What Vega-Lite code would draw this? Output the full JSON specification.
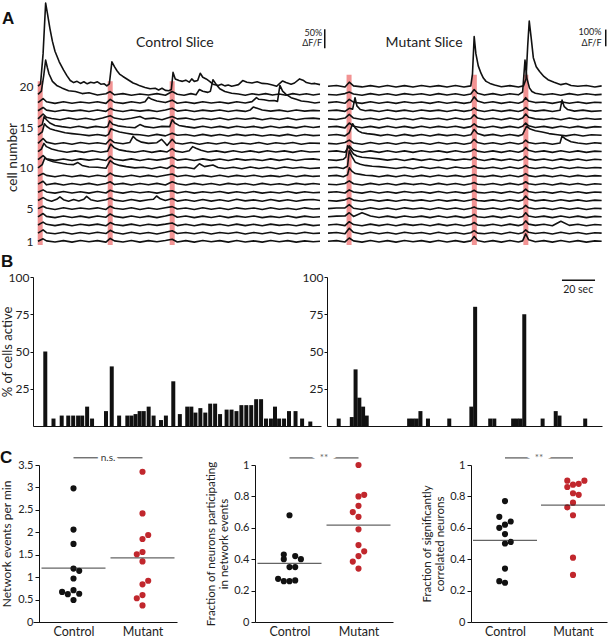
{
"$schema": "https://vega.github.io/schema/vega-lite/v6.json",
"padding": {"left": 0, "top": 1, "right": 2, "bottom": 0},
"config": {
  "font": "Lato",
  "view": {"stroke": null},
  "axis": {"labelFont": "Lato", "titleFont": "Lato", "labelColor": "#222", "titleColor": "#222", "titleFontWeight": "normal", "domainColor": "#111", "tickColor": "#111", "grid": false},
  "title": {"font": "Liberation Sans", "fontWeight": "bold", "fontSize": 17, "anchor": "start", "frame": "group", "color": "#111"},
  "text": {"color": "#222"}
},
"datasets": {
  "red": [{"s":"Control","t":1.3},{"s":"Control","t":42.5},{"s":"Control","t":79.0},{"s":"Mutant","t":12.4},{"s":"Mutant","t":86.1},{"s":"Mutant","t":116.4}],
  "traces": [
    {"s":"Control","c":20,"t":[0,1.5,3,4.5,5.5,7,8.5,10,12.5,15,17,19,21,23,25,27,29,31,33,35,37,39,40.5,42,43.5,45,46.5,48,50,53,56,58,60,63,66,69,71,73,75,77,78.5,79.5,80.8,83,85,87,89,90.5,92,94,95.5,97,99,101,103,106,108,110,112,114,116,118,120.5,123,126,129,132,135,138,140.5,142,144,146,149,151,154,156,158,161,163,166],
     "y":[20.02,20.3,24,30.2,29,27.1,25.5,24.3,23,22,21.3,20.7,20.45,20.6,20.35,20.55,20.3,20.5,20.4,20.55,20.25,20.3,20.05,20.3,23,22.4,21.9,21.5,21.2,20.8,20.4,20.25,20.05,19.85,19.7,19.75,19.55,19.75,19.5,19.45,19.6,21.7,20.9,20.7,20.6,20.75,20.5,20.9,20.6,20.7,21.6,21.1,20.9,20.6,20.25,20.1,20.25,20.05,20.15,20.0,20.1,20.2,20.7,20.5,20.4,20.55,20.35,20.3,20.15,20.0,20.3,20.65,20.45,20.25,20.4,20.9,20.75,20.45,20.3,20.35,20.2]},
    {"s":"Control","c":19,"t":[0,2,3.5,4.5,5.5,6.5,8.5,11,14,18,22,26,30,35,40,42.5,45,50,55,60,65,70,75,79,82,86,90,93,95,97,100,101.5,103,105,107,110,114,118,122,126,130,134,138,142,146,150,154,158,162,166],
     "y":[19.0,19.4,21.5,23.2,22.3,21.5,20.6,20.1,19.8,19.45,19.35,19.1,19.2,18.92,19.08,19.35,18.95,19.1,18.9,19.05,18.92,19.1,18.9,19.35,19.02,18.9,19.1,18.95,19.6,19.4,19.25,19.4,20.8,20.2,19.7,19.35,19.15,19.05,18.9,19.08,18.95,19.1,18.92,19.05,18.9,19.1,18.95,19.08,18.92,19.05]},
    {"s":"Control","c":18,"t":[0,3,5,10,15,20,25,30,35,40,42.5,45,50,55,60,63,65,67,70,75,79,82,87,92,97,102,107,112,117,122,126,128.6,130,133,136,139,141,142.4,144,146,149,152,155,159,163,166],
     "y":[18.0,18.5,18.1,17.9,18.1,17.92,18.08,17.95,18.1,17.9,18.4,18.05,17.9,18.1,17.95,18.1,18.65,18.4,18.2,18.0,18.3,17.92,18.08,17.9,18.1,17.95,18.08,17.9,18.1,17.95,18.12,18.6,18.4,18.35,18.22,18.25,18.15,20.1,19.4,19.0,18.6,18.4,18.2,18.1,17.95,18.05]},
    {"s":"Control","c":17,"t":[0,3,5,10,15,20,25,30,35,40,42.5,45,50,55,60,65,70,75,79,82,87,92,97,102,107,112,117,122,125,126.7,129,132,137,142,147,152,157,162,166],
     "y":[17.0,17.4,17.08,16.9,17.1,16.95,17.08,16.9,17.1,16.92,17.3,17.05,16.9,17.1,16.95,17.08,16.9,17.1,17.3,16.95,17.1,16.9,17.08,16.95,17.1,16.9,17.05,16.92,17.1,17.45,17.3,17.1,16.95,17.08,16.9,17.1,16.95,17.05,17.0]},
    {"s":"Control","c":16,"t":[0,3,5,8,13,18,23,28,33,38,42.5,45,50,55,60,63,68,73,79,82,87,92,97,102,107,112,117,122,127,132,137,142,147,152,157,162,166],
     "y":[16.0,16.6,16.2,16.05,15.9,16.1,15.92,16.08,15.9,16.1,16.4,16.1,15.92,16.08,16.3,16.0,16.1,15.9,16.3,16.0,16.1,15.9,16.08,15.92,16.1,15.9,16.08,15.95,16.1,15.9,16.08,15.92,16.1,15.9,16.05,16.1,16.0]},
    {"s":"Control","c":15,"t":[0,2.5,3.6,5,7,10,14,19,24,29,34,39,41,42.2,44,47,52,57,60,63,68,73,77.5,79,80.5,83,87,92,97,102,107,112,117,122,127,132,137,142,147,152,157,162,166],
     "y":[15.0,15.3,16.3,15.9,15.5,15.2,15.05,14.92,15.1,14.9,15.08,14.95,15.05,15.75,15.35,15.15,15.0,14.92,15.3,15.05,14.92,15.08,15.05,15.9,15.5,15.2,15.05,14.9,15.1,14.92,15.08,14.9,15.1,14.95,15.08,14.9,15.1,14.92,15.05,14.9,15.1,14.95,15.05]},
    {"s":"Control","c":14,"t":[0,2.5,3.8,5,7,10,13,16,20,25,30,35,40,41.5,43,45,48,52,56,60,65,70,75,79,82,87,92,97,102,107,112,117,122,127,132,137,142,147,152,157,162,166],
     "y":[14.0,14.4,15.4,15.1,14.8,14.6,14.45,14.3,14.2,14.08,13.95,14.08,13.92,14.1,14.8,14.6,14.4,14.25,14.1,14.05,13.9,14.1,13.92,14.25,14.0,14.08,13.9,14.1,13.92,14.08,13.9,14.1,13.95,14.08,13.9,14.05,13.92,14.1,13.9,14.08,13.95,14.0]},
    {"s":"Control","c":13,"t":[0,3,5,10,15,20,25,30,35,40,42.5,45,50,54,56,58,61,65,70,72.7,74.5,76,79,81,85,90,95,100,105,110,115,120,125,130,135,140,145,150,155,160,166],
     "y":[13.0,13.6,13.15,12.92,13.08,12.9,13.1,12.95,13.08,12.92,13.5,13.1,12.95,13.1,13.85,13.45,13.15,13.0,13.08,13.5,13.1,12.75,13.5,13.05,12.92,13.1,12.9,13.08,12.92,13.1,12.9,13.05,12.92,13.1,12.9,13.08,12.95,13.1,12.9,13.05,13.0]},
    {"s":"Control","c":12,"t":[0,2,3.5,5,8,12,17,22,27,32,37,41,42.8,45,48,52,57,62,67,72,76,79,81,85,89,91,93,96,100,105,110,115,120,125,130,135,140,145,150,155,160,166],
     "y":[12.0,12.3,13.0,12.6,12.3,12.1,11.92,12.08,11.9,12.1,11.92,12.05,12.9,12.45,12.2,12.05,11.92,12.1,11.9,12.08,11.95,12.35,12.05,11.92,12.1,12.6,12.4,12.15,11.95,12.08,11.9,12.1,11.92,12.08,11.9,12.1,11.95,12.08,11.9,12.1,11.95,12.0]},
    {"s":"Control","c":11,"t":[0,3,5,10,15,20,25,30,35,40,42.5,45,50,55,60,65,70,75,79,82,87,92,97,102,107,112,117,122,127,132,137,142,147,152,157,162,166],
     "y":[11.0,11.5,11.1,10.92,11.08,10.9,11.1,10.95,11.08,10.9,11.4,11.05,10.92,11.1,10.9,11.08,10.95,11.1,11.3,10.95,11.08,10.9,11.1,10.92,11.08,10.9,11.1,10.95,11.05,10.9,11.1,10.92,11.08,10.9,11.05,11.1,11.0]},
    {"s":"Control","c":10,"t":[0,2.5,4,6,9,13,17,21,23.5,26,30,35,40,42.5,45,48,52,57,62,67,72,76,79,82,87,92,95,98,103,106,110,115,120,125,130,135,140,145,150,155,160,166],
     "y":[10.0,10.4,11.2,10.95,10.75,10.6,10.45,10.4,10.65,10.3,10.1,10.08,9.95,10.9,10.5,10.3,10.15,10.0,10.08,9.9,10.1,9.92,10.3,10.0,10.08,9.9,10.5,10.15,10.35,10.05,9.92,10.08,9.9,10.1,9.92,10.08,9.9,10.1,9.95,10.08,9.92,10.0]},
    {"s":"Control","c":9,"t":[0,3,5,10,15,20,25,30,35,40,42.5,45,50,55,60,65,70,75,79,82,87,92,97,102,107,112,117,122,127,132,137,142,147,152,157,162,166],
     "y":[9.0,9.3,9.08,8.9,9.1,8.92,9.08,8.9,9.1,8.95,9.35,9.05,8.9,9.1,8.92,9.08,8.9,9.1,9.25,8.95,9.1,8.9,9.08,8.92,9.1,8.9,9.08,8.95,9.1,8.9,9.05,8.92,9.1,8.9,9.08,8.95,9.0]},
    {"s":"Control","c":8,"t":[0,3,5,10,15,20,25,30,35,40,42.5,45,50,55,60,65,70,75,79,82,87,92,97,102,107,112,117,122,127,132,137,142,147,152,157,162,166],
     "y":[8.0,8.35,7.92,8.1,7.9,8.08,7.92,8.1,7.9,8.08,8.3,7.95,8.1,7.9,8.08,7.92,8.1,7.9,8.3,8.05,7.9,8.1,7.92,8.08,7.9,8.1,7.95,8.08,7.9,8.1,7.92,8.05,7.9,8.1,7.95,8.08,8.0]},
    {"s":"Control","c":7,"t":[0,3,5,10,15,20,25,30,35,40,42.5,45,50,55,60,65,70,75,79,82,87,92,97,102,107,112,117,122,127,132,137,142,147,152,157,162,166],
     "y":[7.0,7.3,7.05,6.9,7.1,6.92,7.08,6.9,7.1,6.92,7.25,7.08,6.9,7.1,6.95,7.08,6.9,7.1,7.2,6.92,7.1,6.9,7.08,6.95,7.1,6.9,7.08,6.92,7.1,6.9,7.05,6.92,7.1,6.9,7.08,6.95,7.0]},
    {"s":"Control","c":6,"t":[0,3,5,8,11,12.9,15,18,21,24,27,28.6,31,35,40,42.5,45,50,55,60,65,68,69.8,72,75,79,82,87,92,97,102,107,112,117,122,127,132,137,142,147,152,157,162,166],
     "y":[6.0,6.35,6.1,5.9,6.15,6.45,6.1,5.92,6.12,5.95,6.15,6.5,6.1,5.9,6.1,6.3,6.05,5.9,6.12,5.92,6.1,6.15,6.55,6.2,6.0,6.25,5.92,6.1,5.9,6.12,5.92,6.1,5.9,6.15,5.95,6.08,5.9,6.12,5.92,6.1,5.9,6.08,6.12,6.0]},
    {"s":"Control","c":5,"t":[0,3,5,10,15,20,25,30,35,40,42.5,45,50,55,60,65,70,75,79,82,87,92,97,102,107,112,117,122,127,132,137,142,147,152,157,162,166],
     "y":[5.0,5.3,5.08,4.9,5.1,4.92,5.08,4.95,5.1,4.9,5.3,5.05,4.92,5.1,4.9,5.08,4.92,5.1,5.25,4.95,5.08,4.9,5.1,4.92,5.08,4.9,5.1,4.95,5.08,4.9,5.1,4.92,5.05,4.9,5.1,4.95,5.0]},
    {"s":"Control","c":4,"t":[0,3,5,10,15,20,25,30,35,40,42.5,45,50,55,60,65,70,75,79,82,87,92,97,102,107,112,117,122,127,132,137,142,147,152,157,162,166],
     "y":[4.0,4.4,4.05,3.9,4.1,3.92,4.08,3.9,4.1,3.95,4.35,4.05,3.9,4.1,3.92,4.08,3.9,4.1,4.3,3.95,4.1,3.9,4.08,3.92,4.1,3.9,4.08,3.95,4.1,3.9,4.05,3.92,4.1,3.9,4.08,3.95,4.0]},
    {"s":"Control","c":3,"t":[0,3,5,10,15,20,25,30,35,40,42.5,45,50,55,60,65,70,75,79,82,87,92,97,102,107,112,117,122,127,132,137,142,147,152,157,162,166],
     "y":[3.0,3.35,3.08,2.92,3.1,2.9,3.08,2.95,3.1,2.9,3.3,3.05,2.92,3.1,2.9,3.08,2.95,3.1,3.25,2.92,3.08,2.9,3.1,2.95,3.08,2.9,3.1,2.92,3.08,2.9,3.1,2.95,3.05,2.9,3.1,2.92,3.0]},
    {"s":"Control","c":2,"t":[0,3,5,10,15,20,25,30,35,40,42.5,45,50,55,60,65,70,75,79,82,87,92,97,102,107,112,117,122,127,132,137,142,147,152,157,162,166],
     "y":[2.0,2.4,2.05,1.92,2.1,1.9,2.08,1.92,2.1,1.95,2.35,2.08,1.9,2.1,1.92,2.08,1.9,2.1,2.3,1.95,2.08,1.92,2.1,1.9,2.08,1.95,2.1,1.9,2.08,1.92,2.1,1.9,2.05,1.92,2.1,1.95,2.0]},
    {"s":"Control","c":1,"t":[0,3,5,10,15,20,25,30,35,40,42.5,45,50,55,60,65,70,75,79,82,87,92,97,102,107,112,117,122,127,132,137,142,147,152,157,162,166],
     "y":[1.0,1.3,1.05,0.92,1.08,0.9,1.1,0.95,1.08,0.9,1.35,1.05,0.92,1.1,0.9,1.08,0.95,1.1,1.25,0.92,1.08,0.9,1.1,0.95,1.08,0.9,1.1,0.92,1.05,0.9,1.1,0.95,1.08,0.9,1.05,0.95,1.0]},
    {"s":"Mutant","c":20,"t":[0,5,10,12.5,15,20,25,30,35,40,45,50,55,60,65,70,75,80,84,85,86,87,88.4,90,91.4,93,95.3,98,102,107,112,115,116.5,117.5,118.4,119.5,120.8,122.5,124.5,127,129.4,133,137,140,143,147,152,157,161],
     "y":[20.0,20.1,19.92,20.5,20.05,19.92,20.08,19.9,20.1,19.92,20.08,19.9,20.1,19.95,20.08,19.9,20.1,19.92,20.05,21.5,26.1,24.0,22.5,21.6,21.0,20.6,20.35,20.15,19.95,20.08,19.9,20.05,20.9,25.0,28.0,26.0,23.5,22.4,21.8,21.2,20.8,20.5,20.2,20.35,20.1,20.0,20.1,19.92,20.05]},
    {"s":"Mutant","c":19,"t":[0,5,10,12.5,15,20,25,30,35,40,45,50,55,60,65,70,75,80,84,86,88,92,97,102,107,112,114.5,115.9,117,118.5,120,122,127,132,137,142,147,152,157,161],
     "y":[19.0,18.92,19.1,19.3,19.05,18.9,19.1,18.92,19.08,18.9,19.1,18.95,19.08,18.9,19.1,18.92,19.08,18.9,19.05,19.6,19.15,18.92,19.1,18.9,19.08,18.95,19.3,23.2,21.0,19.8,19.35,19.15,18.95,19.08,18.9,19.1,18.92,19.08,18.95,19.0]},
    {"s":"Mutant","c":18,"t":[0,5,10,12.5,15,20,25,30,35,40,45,50,55,60,65,70,75,80,84,86,88,92,97,102,107,112,114.5,116.3,118,122,127,132,137,142,147,152,157,161],
     "y":[18.0,18.1,17.92,18.4,18.05,17.9,18.1,17.92,18.08,17.9,18.1,17.95,18.08,17.9,18.1,17.92,18.08,17.9,18.05,18.7,18.2,17.95,18.1,17.9,18.08,17.92,18.1,18.6,18.2,18.0,18.08,17.9,18.1,17.92,18.08,17.9,18.05,18.0]},
    {"s":"Mutant","c":17,"t":[0,5,10,12.5,14.5,15.9,17,19,22,25,30,35,40,45,50,55,60,65,70,75,80,84,86,88,92,97,102,107,112,114.5,116.3,118,122,127,132,136.5,137.7,139,141,145,150,155,161],
     "y":[17.0,17.08,16.92,17.3,17.2,18.6,17.6,17.15,17.0,17.08,16.9,17.1,16.92,17.08,16.9,17.1,16.95,17.08,16.9,17.1,16.92,17.05,17.35,17.05,16.9,17.1,16.92,17.08,16.9,17.05,17.4,17.1,16.95,17.08,16.9,17.05,18.3,17.5,17.15,16.95,17.08,16.92,17.0]},
    {"s":"Mutant","c":16,"t":[0,5,10,12.5,15,20,25,30,35,40,45,50,55,60,65,70,75,80,84,86,88,92,97,102,107,112,114.5,116.3,118,122,127,132,137,142,147,152,157,161],
     "y":[16.0,15.92,16.1,16.55,16.1,15.92,16.08,15.9,16.1,15.92,16.08,15.9,16.1,15.95,16.08,15.9,16.1,15.92,16.05,16.5,16.1,15.92,16.08,15.9,16.1,15.92,16.1,16.6,16.2,16.0,15.92,16.08,15.9,16.1,15.92,16.08,15.95,16.0]},
    {"s":"Mutant","c":15,"t":[0,5,10,12.5,15,20,25,30,35,40,45,50,55,60,65,70,75,80,84,86,88,92,97,102,107,112,114.5,116.3,118,122,127,132,137,142,147,152,157,161],
     "y":[15.0,15.08,14.9,15.5,15.1,14.92,15.08,14.9,15.1,14.92,15.08,14.9,15.1,14.92,15.08,14.95,15.1,14.9,15.05,15.4,15.05,14.92,15.1,14.9,15.08,14.92,15.1,15.5,15.15,14.95,15.08,14.9,15.1,14.92,15.08,14.9,15.05,15.0]},
    {"s":"Mutant","c":14,"t":[0,5,10,12.5,14.5,16,18,20,23,27,31,35,40,45,50,55,60,65,70,75,80,84,86,88,92,97,102,107,112,114.5,116.8,119,122,126,130,135,140,145,150,155,161],
     "y":[14.0,14.08,13.92,14.3,15.4,14.9,14.5,14.3,14.2,14.1,13.95,14.08,13.9,14.1,13.92,14.08,13.9,14.1,13.95,14.08,13.9,14.05,14.7,14.2,13.95,14.1,13.9,14.08,13.92,14.1,15.1,14.75,14.55,14.4,14.2,14.05,13.92,14.08,13.9,14.05,14.0]},
    {"s":"Mutant","c":13,"t":[0,5,10,12.5,15,20,25,30,35,40,45,50,55,60,65,70,75,80,84,86,88,92,97,102,107,112,114.5,116.3,118,122,127,132,136.5,137.7,140,143,147,152,157,161],
     "y":[13.0,12.92,13.1,13.4,13.05,12.9,13.1,12.92,13.08,12.9,13.1,12.95,13.08,12.9,13.1,12.92,13.08,12.9,13.05,13.5,13.1,12.92,13.08,12.9,13.1,12.92,13.05,13.4,13.1,12.95,13.08,12.9,13.05,13.9,13.5,13.2,13.05,12.92,13.08,13.0]},
    {"s":"Mutant","c":12,"t":[0,5,10,12.5,15,20,25,30,35,40,45,50,55,60,65,70,75,80,84,86,88,92,97,102,107,112,114.5,116.3,118,122,127,132,137,142,147,152,157,161],
     "y":[12.0,12.08,11.92,12.7,12.15,11.92,12.08,11.9,12.1,11.92,12.08,11.9,12.1,11.95,12.08,11.9,12.1,11.92,12.05,12.3,12.05,11.92,12.08,11.9,12.1,11.92,12.08,12.5,12.15,11.95,12.08,11.9,12.1,11.92,12.08,11.9,12.05,12.0]},
    {"s":"Mutant","c":11,"t":[0,5,9,10.5,11.5,13,15,17,20,25,30,35,40,45,50,55,60,65,70,75,80,84,86,88,92,97,102,107,112,114.5,116.3,118,122,127,132,137,142,147,152,157,161],
     "y":[11.0,10.92,11.05,11.3,12.7,12.3,11.7,11.45,11.3,11.2,11.1,10.95,11.08,10.9,11.1,10.92,11.08,10.9,11.1,10.95,11.08,11.0,11.3,11.05,10.9,11.1,10.92,11.08,10.9,11.05,11.4,11.1,10.95,11.08,10.9,11.1,10.92,11.08,10.9,11.05,11.0]},
    {"s":"Mutant","c":10,"t":[0,5,9,11.5,12.5,14,16,19,22,26,30,35,40,45,50,55,60,65,70,75,80,84,86,88,92,97,102,107,112,114.5,116.3,118,122,127,132,137,142,147,152,157,161],
     "y":[10.0,10.08,9.92,10.2,12.1,11.4,10.7,10.45,10.3,10.2,10.15,10.05,9.92,10.08,9.9,10.1,9.92,10.08,9.9,10.1,9.95,10.05,10.25,10.0,9.92,10.08,9.9,10.1,9.92,10.05,10.3,10.05,9.92,10.08,9.9,10.1,9.92,10.08,9.95,10.05,10.0]},
    {"s":"Mutant","c":9,"t":[0,5,9,11.5,12.5,14,16,19,22,26,30,35,40,45,50,55,60,65,70,75,80,84,86,88,92,97,102,107,112,114.5,116.3,118,122,127,132,137,142,147,152,157,161],
     "y":[9.0,9.08,8.92,9.15,10.0,9.6,9.3,9.2,9.1,9.05,8.92,9.08,8.9,9.1,8.92,9.08,8.9,9.1,8.95,9.08,8.9,9.05,9.2,9.0,8.92,9.08,8.9,9.1,8.92,9.05,9.3,9.05,8.92,9.08,8.9,9.1,8.92,9.08,8.95,9.05,9.0]},
    {"s":"Mutant","c":8,"t":[0,5,10,12.5,15,20,25,30,35,40,45,50,55,60,65,70,75,80,84,86,88,92,97,102,107,112,114.5,116.3,118,122,127,132,137,142,147,152,157,161],
     "y":[8.0,7.92,8.08,8.4,8.05,7.9,8.1,7.92,8.08,7.9,8.1,7.95,8.08,7.9,8.1,7.92,8.08,7.9,8.05,8.2,8.0,7.92,8.08,7.9,8.1,7.92,8.05,8.3,8.05,7.92,8.08,7.9,8.1,7.92,8.08,7.9,8.05,8.0]},
    {"s":"Mutant","c":7,"t":[0,5,10,12.5,15,20,25,30,35,40,45,50,55,60,65,70,75,80,84,86,88,92,97,102,107,112,114.5,116.3,118,122,127,132,137,142,147,152,157,161],
     "y":[7.0,7.08,6.92,7.3,7.05,6.9,7.1,6.92,7.08,6.9,7.1,6.95,7.08,6.9,7.1,6.92,7.08,6.9,7.05,7.25,7.0,6.92,7.08,6.9,7.1,6.92,7.05,7.4,7.1,6.95,7.08,6.9,7.1,6.92,7.08,6.9,7.05,7.0]},
    {"s":"Mutant","c":6,"t":[0,5,10,12.5,15,20,25,30,35,40,45,50,55,60,65,70,75,80,84,86,88,92,97,102,107,112,114.5,116.3,118,122,127,132,137,142,147,152,157,161],
     "y":[6.0,5.92,6.08,6.3,6.05,5.9,6.1,5.92,6.08,5.9,6.1,5.95,6.08,5.9,6.1,5.92,6.08,5.9,6.05,6.2,6.0,5.92,6.08,5.9,6.1,5.92,6.05,6.55,6.15,5.95,6.08,5.9,6.1,5.92,6.08,5.9,6.05,6.0]},
    {"s":"Mutant","c":5,"t":[0,5,10,12.5,15,20,25,30,35,40,45,50,55,60,65,70,75,80,84,86,88,92,97,102,107,112,114.5,116.3,118,122,127,132,137,142,147,152,157,161],
     "y":[5.0,5.08,5.1,5.5,5.05,4.9,5.1,4.92,5.08,4.9,5.1,4.95,5.08,4.9,5.1,4.92,5.08,4.9,5.05,5.2,5.0,4.92,5.08,4.9,5.1,4.92,5.05,5.4,5.1,4.95,5.08,4.9,5.1,4.92,5.08,4.9,5.05,5.0]},
    {"s":"Mutant","c":4,"t":[0,5,10,12.5,15,20,25,30,35,40,45,50,55,60,65,70,75,80,84,86,88,92,97,102,107,112,114.5,116.3,118,122,127,132,137,142,147,152,157,161],
     "y":[4.0,4.08,4.1,4.5,4.05,4.5,4.1,3.92,4.08,3.9,4.1,3.95,4.08,3.9,4.1,3.92,4.08,3.9,4.05,4.3,4.0,3.92,4.08,3.9,4.1,3.92,4.05,4.5,4.1,3.95,4.08,3.9,4.1,3.92,4.08,3.9,4.05,4.0]},
    {"s":"Mutant","c":3,"t":[0,5,10,12.5,15,20,25,30,35,40,45,50,55,60,65,70,75,80,84,86,88,92,97,102,107,112,114.5,116.3,118,122,127,132,137,142,147,152,157,161],
     "y":[3.0,3.08,2.92,3.4,3.05,2.9,3.1,2.92,3.08,2.9,3.1,2.95,3.08,2.9,3.1,2.92,3.08,2.9,3.05,3.3,3.0,2.92,3.08,2.9,3.1,2.92,3.05,3.5,3.1,2.95,3.08,2.9,3.45,2.95,3.08,2.9,3.05,3.0]},
    {"s":"Mutant","c":2,"t":[0,5,10,12.5,15,20,25,30,35,40,45,50,55,60,65,70,75,80,84,86,88,92,97,102,107,112,114.5,116.3,118,122,127,132,137,142,147,152,157,161],
     "y":[2.0,2.08,1.92,2.6,2.1,1.9,2.1,1.92,2.08,1.9,2.1,1.95,2.08,1.9,2.1,1.92,2.08,1.9,2.05,2.3,2.0,1.92,2.08,1.9,2.1,1.92,2.05,2.4,2.1,1.95,2.08,1.9,2.1,1.92,2.08,1.9,2.05,2.0]},
    {"s":"Mutant","c":1,"t":[0,5,10,12.5,15,20,25,30,35,40,45,50,55,60,65,70,75,80,84,86,88,92,97,102,107,112,114.5,116.3,118,122,127,132,137,142,147,152,157,161],
     "y":[1.0,1.08,0.92,1.4,1.05,0.9,1.1,0.92,1.08,0.9,1.1,0.95,1.08,0.9,1.1,0.92,1.08,0.9,1.05,1.6,1.1,0.92,1.08,0.9,1.1,0.92,1.05,1.9,1.2,0.95,1.08,0.9,1.1,0.92,1.08,0.9,1.05,1.0]}
  ],
  "bars": [
    {"s":"Control","t":1.5,"p":50},{"s":"Control","t":6.5,"p":5},{"s":"Control","t":11.5,"p":7},{"s":"Control","t":15.5,"p":7},{"s":"Control","t":18.5,"p":7},{"s":"Control","t":21.5,"p":7},{"s":"Control","t":24,"p":7},{"s":"Control","t":27,"p":13},{"s":"Control","t":30,"p":5},{"s":"Control","t":38.5,"p":10},{"s":"Control","t":42,"p":40},{"s":"Control","t":46.5,"p":7},{"s":"Control","t":51.5,"p":7},{"s":"Control","t":54,"p":7},{"s":"Control","t":56.5,"p":8},{"s":"Control","t":59,"p":10},{"s":"Control","t":61.5,"p":10},{"s":"Control","t":64.5,"p":13},{"s":"Control","t":67.5,"p":7},{"s":"Control","t":72,"p":4},{"s":"Control","t":75,"p":7},{"s":"Control","t":79.5,"p":30},{"s":"Control","t":83.5,"p":8},{"s":"Control","t":88,"p":13},{"s":"Control","t":90.5,"p":13},{"s":"Control","t":93,"p":9},{"s":"Control","t":96,"p":12},{"s":"Control","t":99,"p":9},{"s":"Control","t":102,"p":15},{"s":"Control","t":105,"p":15},{"s":"Control","t":108,"p":8},{"s":"Control","t":112,"p":11},{"s":"Control","t":115,"p":11},{"s":"Control","t":118,"p":10},{"s":"Control","t":121,"p":14},{"s":"Control","t":124,"p":14},{"s":"Control","t":127,"p":14},{"s":"Control","t":130,"p":18},{"s":"Control","t":133,"p":18},{"s":"Control","t":136,"p":5},{"s":"Control","t":139,"p":5},{"s":"Control","t":141.5,"p":13},{"s":"Control","t":144,"p":5},{"s":"Control","t":147,"p":5},{"s":"Control","t":150,"p":10},{"s":"Control","t":154,"p":10},{"s":"Control","t":158,"p":5},{"s":"Control","t":163,"p":3},
    {"s":"Mutant","t":3.5,"p":5},{"s":"Mutant","t":11.5,"p":6},{"s":"Mutant","t":13.8,"p":38},{"s":"Mutant","t":16.1,"p":19},{"s":"Mutant","t":18.4,"p":13},{"s":"Mutant","t":20.6,"p":7},{"s":"Mutant","t":46.5,"p":5},{"s":"Mutant","t":48.8,"p":5},{"s":"Mutant","t":51.1,"p":5},{"s":"Mutant","t":53.4,"p":10},{"s":"Mutant","t":58,"p":5},{"s":"Mutant","t":71,"p":5},{"s":"Mutant","t":84.5,"p":13},{"s":"Mutant","t":86.8,"p":80},{"s":"Mutant","t":96,"p":5},{"s":"Mutant","t":98.5,"p":5},{"s":"Mutant","t":110,"p":5},{"s":"Mutant","t":112.3,"p":5},{"s":"Mutant","t":114.5,"p":5},{"s":"Mutant","t":116.8,"p":75},{"s":"Mutant","t":128,"p":5},{"s":"Mutant","t":136,"p":10},{"s":"Mutant","t":138.3,"p":7},{"s":"Mutant","t":154,"p":5}
  ]
},
"concat": [
  {"hconcat": [
    {"width": 287, "height": 246,
     "title": {"text": "A", "dx": -31, "offset": -27},
     "resolve": {"axis": {"x": "independent", "y": "independent"}},
     "layer": [
      {"data": {"name": "red"}, "transform": [{"filter": "datum.s === 'Control'"}],
       "mark": {"type": "rule", "strokeWidth": 5, "color": "#f08080", "opacity": 0.85},
       "encoding": {"x": {"field": "t", "type": "quantitative", "axis": null}, "y": {"datum": 0.55, "axis": null}, "y2": {"datum": 20.6}}},
      {"data": {"name": "traces"}, "transform": [{"filter": "datum.s === 'Control'"}, {"flatten": ["t", "y"]}],
       "mark": {"type": "line", "strokeWidth": 1.6, "color": "#111", "strokeJoin": "round"},
       "encoding": {
         "x": {"field": "t", "type": "quantitative", "scale": {"domain": [-2.94, 166], "nice": false, "zero": false}, "axis": null},
         "y": {"field": "y", "type": "quantitative", "scale": {"domain": [0.3, 30.45], "nice": false, "zero": false},
               "axis": {"orient": "left", "values": [1, 5, 10, 15, 20], "title": "cell number", "domain": false, "ticks": false, "tickSize": 0, "labelPadding": 0, "labelFontSize": 12, "titleFontSize": 13.5, "titleX": -14, "titleY": 156}},
         "detail": {"field": "c", "type": "nominal"}}},
      {"data": {"values": [{}]}, "mark": {"type": "text", "text": "Control Slice", "fontSize": 14, "baseline": "middle"},
       "encoding": {"x": {"datum": 80.6, "axis": null}, "y": {"datum": 25.27, "axis": null}}},
      {"data": {"values": [{}]}, "mark": {"type": "rule", "strokeWidth": 1.5, "color": "#111"},
       "encoding": {"x": {"datum": 168.8, "axis": null}, "y": {"datum": 24.66, "axis": null}, "y2": {"datum": 26.98}}},
      {"data": {"values": [{}]}, "mark": {"type": "text", "text": "50%", "fontSize": 9, "align": "right", "baseline": "middle"},
       "encoding": {"x": {"datum": 167.3, "axis": null}, "y": {"datum": 26.56, "axis": null}}},
      {"data": {"values": [{}]}, "mark": {"type": "text", "text": "ΔF/F", "fontSize": 9, "align": "right", "baseline": "middle"},
       "encoding": {"x": {"datum": 167.3, "axis": null}, "y": {"datum": 25.35, "axis": null}}}
     ]},
    {"width": 274, "height": 246,
     "layer": [
      {"data": {"name": "red"}, "transform": [{"filter": "datum.s === 'Mutant'"}],
       "mark": {"type": "rule", "strokeWidth": 5, "color": "#f08080", "opacity": 0.85},
       "encoding": {"x": {"field": "t", "type": "quantitative", "axis": null}, "y": {"datum": 0.55, "axis": null}, "y2": {"datum": 21.4}}},
      {"data": {"name": "traces"}, "transform": [{"filter": "datum.s === 'Mutant'"}, {"flatten": ["t", "y"]}],
       "mark": {"type": "line", "strokeWidth": 1.6, "color": "#111", "strokeJoin": "round"},
       "encoding": {
         "x": {"field": "t", "type": "quantitative", "scale": {"domain": [0, 161.2], "nice": false, "zero": false}, "axis": null},
         "y": {"field": "y", "type": "quantitative", "scale": {"domain": [0.3, 30.45], "nice": false, "zero": false}, "axis": null},
         "detail": {"field": "c", "type": "nominal"}}},
      {"data": {"values": [{}]}, "mark": {"type": "text", "text": "Mutant Slice", "fontSize": 14, "baseline": "middle"},
       "encoding": {"x": {"datum": 56.5, "axis": null}, "y": {"datum": 25.27, "axis": null}}},
      {"data": {"values": [{}]}, "mark": {"type": "rule", "strokeWidth": 1.5, "color": "#111"},
       "encoding": {"x": {"datum": 163.4, "axis": null}, "y": {"datum": 24.9, "axis": null}, "y2": {"datum": 26.95}}},
      {"data": {"values": [{}]}, "mark": {"type": "text", "text": "100%", "fontSize": 9, "align": "right", "baseline": "middle"},
       "encoding": {"x": {"datum": 160.9, "axis": null}, "y": {"datum": 26.65, "axis": null}}},
      {"data": {"values": [{}]}, "mark": {"type": "text", "text": "ΔF/F", "fontSize": 9, "align": "right", "baseline": "middle"},
       "encoding": {"x": {"datum": 160.9, "axis": null}, "y": {"datum": 25.25, "axis": null}}}
     ]}
   ], "spacing": 8, "bounds": "flush"},
  {"hconcat": [
    {"width": 288, "height": 149,
     "title": {"text": "B", "dx": -32, "offset": 0.5},
     "resolve": {"axis": {"x": "independent", "y": "independent"}},
     "layer": [
      {"data": {"name": "bars"}, "transform": [{"filter": "datum.s === 'Control'"}],
       "mark": {"type": "bar", "width": 4, "color": "#111", "orient": "vertical"},
       "encoding": {
         "x": {"field": "t", "type": "quantitative", "scale": {"domain": [-2.94, 166.47], "nice": false, "zero": false}, "axis": {"orient": "bottom", "domain": true, "ticks": false, "labels": false, "title": null, "domainWidth": 1.2}},
         "y": {"field": "p", "type": "quantitative", "scale": {"domain": [0, 100], "nice": false}, "axis": {"orient": "left", "values": [25, 50, 75, 100], "title": "% of cells active", "tickSize": 3, "labelPadding": 1, "labelFontSize": 12, "titleFontSize": 13, "titlePadding": -6}}}},
      {"data": {"values": [{}]}, "mark": {"type": "rule", "opacity": 0},
       "encoding": {"x": {"datum": 0, "axis": null}, "x2": {"datum": 1}, "y": {"datum": -12.1, "axis": null}}}
     ]},
    {"width": 275, "height": 149,
     "resolve": {"axis": {"x": "independent", "y": "independent"}},
     "layer": [
      {"data": {"name": "bars"}, "transform": [{"filter": "datum.s === 'Mutant'"}],
       "mark": {"type": "bar", "width": 4, "color": "#111", "orient": "vertical"},
       "encoding": {
         "x": {"field": "t", "type": "quantitative", "scale": {"domain": [-0.59, 161.2], "nice": false, "zero": false}, "axis": {"orient": "bottom", "domain": true, "ticks": false, "labels": false, "title": null, "domainWidth": 1.2}},
         "y": {"field": "p", "type": "quantitative", "scale": {"domain": [0, 100], "nice": false}, "axis": {"orient": "left", "values": [25, 50, 75, 100], "title": null, "tickSize": 3, "labelPadding": 1, "labelFontSize": 12}}}},
      {"data": {"values": [{}]}, "mark": {"type": "rule", "strokeWidth": 1.5, "color": "#111"},
       "encoding": {"x": {"datum": 139.8, "axis": null}, "x2": {"datum": 160}, "y": {"datum": 97.8, "axis": null}}},
      {"data": {"values": [{}]}, "mark": {"type": "text", "text": "20 sec", "fontSize": 10.5, "baseline": "middle"},
       "encoding": {"x": {"datum": 149.7, "axis": null}, "y": {"datum": 91.5, "axis": null}}}
     ]}
   ], "spacing": 6, "bounds": "flush"},
  {"hconcat": [
    {"width": 144, "height": 157,
     "title": {"text": "C", "dx": -33, "offset": -14.5},
     "resolve": {"axis": {"x": "independent", "y": "independent"}},
     "layer": [
      {"data": {"values": [
         {"g":"Control","v":2.98,"j":0},{"g":"Control","v":2.06,"j":0},{"g":"Control","v":1.74,"j":0},{"g":"Control","v":1.19,"j":0},{"g":"Control","v":1.14,"j":1},{"g":"Control","v":0.97,"j":0},{"g":"Control","v":0.67,"j":-2},{"g":"Control","v":0.62,"j":-1},{"g":"Control","v":0.71,"j":0},{"g":"Control","v":0.63,"j":1},{"g":"Control","v":0.49,"j":0},
         {"g":"Mutant","v":3.35,"j":0},{"g":"Mutant","v":2.42,"j":0},{"g":"Mutant","v":1.85,"j":0},{"g":"Mutant","v":1.94,"j":1},{"g":"Mutant","v":1.56,"j":0},{"g":"Mutant","v":1.51,"j":-1},{"g":"Mutant","v":1.35,"j":0},{"g":"Mutant","v":0.92,"j":1},{"g":"Mutant","v":0.84,"j":0},{"g":"Mutant","v":0.6,"j":0},{"g":"Mutant","v":0.53,"j":-1},{"g":"Mutant","v":0.37,"j":0}]},
       "mark": {"type": "circle", "size": 38, "opacity": 1},
       "encoding": {
         "x": {"field": "g", "type": "nominal", "scale": {"type": "point", "domain": ["Control", "Mutant"], "padding": 0.5435, "align": 0.54}, "axis": {"orient": "bottom", "title": null, "ticks": false, "labelAngle": 0, "labelFontSize": 12.5, "labelPadding": 3}},
         "xOffset": {"field": "j", "type": "quantitative", "scale": {"domain": [-2, 2], "range": [-11.4, 11.4]}},
         "y": {"field": "v", "type": "quantitative", "scale": {"domain": [0, 3.5], "nice": false}, "axis": {"orient": "left", "offset": -6, "values": [0, 0.5, 1, 1.5, 2, 2.5, 3, 3.5], "format": "~g", "title": "Network events per min", "tickSize": 4, "labelFontSize": 11, "titleFontSize": 12, "labelPadding": 2, "titlePadding": 4}},
         "color": {"field": "g", "type": "nominal", "scale": {"domain": ["Control", "Mutant"], "range": ["#111111", "#c1272d"]}, "legend": null}}},
      {"data": {"values": [{"g":"Control","m":1.2},{"g":"Mutant","m":1.43}]},
       "mark": {"type": "tick", "size": 64, "thickness": 1.2, "color": "#222"},
       "encoding": {"x": {"field": "g", "type": "nominal", "axis": null}, "y": {"field": "m", "type": "quantitative", "axis": null}}},
      {"data": {"values": [{}]}, "mark": {"type": "rule", "color": "#333", "strokeWidth": 1},
       "encoding": {"x": {"datum": "Control", "axis": null}, "x2": {"datum": "Mutant"}, "y": {"datum": 3.66, "axis": null}}},
      {"data": {"values": [{}]}, "mark": {"type": "text", "text": "n.s.", "fontSize": 10, "dx": 34.5, "baseline": "middle", "color": "white", "stroke": "white", "strokeWidth": 7},
       "encoding": {"x": {"datum": "Control", "axis": null}, "y": {"datum": 3.66, "axis": null}}},
      {"data": {"values": [{}]}, "mark": {"type": "text", "text": "n.s.", "fontSize": 10, "dx": 34.5, "baseline": "middle", "color": "#333"},
       "encoding": {"x": {"datum": "Control", "axis": null}, "y": {"datum": 3.66, "axis": null}}}
     ]},
    {"width": 138, "height": 157,
     "resolve": {"axis": {"x": "independent", "y": "independent"}},
     "layer": [
      {"data": {"values": [
         {"g":"Control","v":0.68,"j":0},{"g":"Control","v":0.43,"j":-1},{"g":"Control","v":0.42,"j":1},{"g":"Control","v":0.4,"j":-1},{"g":"Control","v":0.4,"j":2},{"g":"Control","v":0.35,"j":0},{"g":"Control","v":0.35,"j":1},{"g":"Control","v":0.275,"j":-2},{"g":"Control","v":0.26,"j":-1},{"g":"Control","v":0.26,"j":0},{"g":"Control","v":0.265,"j":1},
         {"g":"Mutant","v":1.0,"j":0},{"g":"Mutant","v":0.8,"j":0},{"g":"Mutant","v":0.81,"j":1},{"g":"Mutant","v":0.74,"j":0},{"g":"Mutant","v":0.7,"j":-1},{"g":"Mutant","v":0.67,"j":0},{"g":"Mutant","v":0.59,"j":0},{"g":"Mutant","v":0.49,"j":0},{"g":"Mutant","v":0.45,"j":1},{"g":"Mutant","v":0.42,"j":0},{"g":"Mutant","v":0.385,"j":-1},{"g":"Mutant","v":0.34,"j":0}]},
       "mark": {"type": "circle", "size": 38, "opacity": 1},
       "encoding": {
         "x": {"field": "g", "type": "nominal", "scale": {"type": "point", "domain": ["Control", "Mutant"], "padding": 0.5}, "axis": {"orient": "bottom", "title": null, "ticks": false, "labelAngle": 0, "labelFontSize": 12.5, "labelPadding": 3}},
         "xOffset": {"field": "j", "type": "quantitative", "scale": {"domain": [-2, 2], "range": [-11.4, 11.4]}},
         "y": {"field": "v", "type": "quantitative", "scale": {"domain": [0, 1], "nice": false}, "axis": {"orient": "left", "values": [0, 0.2, 0.4, 0.6, 0.8, 1], "format": "~g", "title": ["Fraction of neurons participating", "in network events"], "tickSize": 4, "labelFontSize": 11, "titleFontSize": 11.5, "labelPadding": 2, "titlePadding": 4}},
         "color": {"field": "g", "type": "nominal", "scale": {"domain": ["Control", "Mutant"], "range": ["#111111", "#c1272d"]}, "legend": null}}},
      {"data": {"values": [{"g":"Control","m":0.374},{"g":"Mutant","m":0.617}]},
       "mark": {"type": "tick", "size": 64, "thickness": 1.2, "color": "#222"},
       "encoding": {"x": {"field": "g", "type": "nominal", "axis": null}, "y": {"field": "m", "type": "quantitative", "axis": null}}},
      {"data": {"values": [{}]}, "mark": {"type": "rule", "color": "#333", "strokeWidth": 1},
       "encoding": {"x": {"datum": "Control", "axis": null}, "x2": {"datum": "Mutant"}, "y": {"datum": 1.045, "axis": null}}},
      {"data": {"values": [{}]}, "mark": {"type": "text", "text": "**", "fontSize": 10, "dx": 34.5, "baseline": "middle", "color": "white", "stroke": "white", "strokeWidth": 12},
       "encoding": {"x": {"datum": "Control", "axis": null}, "y": {"datum": 1.045, "axis": null}}},
      {"data": {"values": [{}]}, "mark": {"type": "text", "text": "**", "fontSize": 10, "dx": 34.5, "baseline": "middle", "color": "#666"},
       "encoding": {"x": {"datum": "Control", "axis": null}, "y": {"datum": 1.045, "axis": null}}}
     ]},
    {"width": 136, "height": 157,
     "resolve": {"axis": {"x": "independent", "y": "independent"}},
     "layer": [
      {"data": {"values": [
         {"g":"Control","v":0.77,"j":0},{"g":"Control","v":0.67,"j":-1},{"g":"Control","v":0.6,"j":-1},{"g":"Control","v":0.62,"j":0},{"g":"Control","v":0.64,"j":1},{"g":"Control","v":0.56,"j":0},{"g":"Control","v":0.5,"j":0},{"g":"Control","v":0.51,"j":1},{"g":"Control","v":0.34,"j":0},{"g":"Control","v":0.26,"j":-1},{"g":"Control","v":0.25,"j":0},
         {"g":"Mutant","v":0.9,"j":-1},{"g":"Mutant","v":0.9,"j":2},{"g":"Mutant","v":0.86,"j":-1},{"g":"Mutant","v":0.875,"j":0},{"g":"Mutant","v":0.88,"j":1},{"g":"Mutant","v":0.82,"j":0},{"g":"Mutant","v":0.81,"j":1},{"g":"Mutant","v":0.76,"j":0},{"g":"Mutant","v":0.73,"j":-1},{"g":"Mutant","v":0.68,"j":0},{"g":"Mutant","v":0.41,"j":0},{"g":"Mutant","v":0.3,"j":0}]},
       "mark": {"type": "circle", "size": 38, "opacity": 1},
       "encoding": {
         "x": {"field": "g", "type": "nominal", "scale": {"type": "point", "domain": ["Control", "Mutant"], "padding": 0.5}, "axis": {"orient": "bottom", "title": null, "ticks": false, "labelAngle": 0, "labelFontSize": 12.5, "labelPadding": 3}},
         "xOffset": {"field": "j", "type": "quantitative", "scale": {"domain": [-2, 2], "range": [-11.4, 11.4]}},
         "y": {"field": "v", "type": "quantitative", "scale": {"domain": [0, 1], "nice": false}, "axis": {"orient": "left", "values": [0, 0.2, 0.4, 0.6, 0.8, 1], "format": "~g", "title": ["Fraction of  significantly", "correlated neurons"], "tickSize": 4, "labelFontSize": 11, "titleFontSize": 11.5, "labelPadding": 2, "titlePadding": 4}},
         "color": {"field": "g", "type": "nominal", "scale": {"domain": ["Control", "Mutant"], "range": ["#111111", "#c1272d"]}, "legend": null}}},
      {"data": {"values": [{"g":"Control","m":0.52},{"g":"Mutant","m":0.745}]},
       "mark": {"type": "tick", "size": 64, "thickness": 1.2, "color": "#222"},
       "encoding": {"x": {"field": "g", "type": "nominal", "axis": null}, "y": {"field": "m", "type": "quantitative", "axis": null}}},
      {"data": {"values": [{}]}, "mark": {"type": "rule", "color": "#333", "strokeWidth": 1},
       "encoding": {"x": {"datum": "Control", "axis": null}, "x2": {"datum": "Mutant"}, "y": {"datum": 1.045, "axis": null}}},
      {"data": {"values": [{}]}, "mark": {"type": "text", "text": "**", "fontSize": 10, "dx": 34, "baseline": "middle", "color": "white", "stroke": "white", "strokeWidth": 12},
       "encoding": {"x": {"datum": "Control", "axis": null}, "y": {"datum": 1.045, "axis": null}}},
      {"data": {"values": [{}]}, "mark": {"type": "text", "text": "**", "fontSize": 10, "dx": 34, "baseline": "middle", "color": "#666"},
       "encoding": {"x": {"datum": "Control", "axis": null}, "y": {"datum": 1.045, "axis": null}}}
     ]}
   ], "spacing": 78, "bounds": "flush"}
],
"columns": 1,
"align": "none",
"spacing": 4,
"bounds": "full"
}
